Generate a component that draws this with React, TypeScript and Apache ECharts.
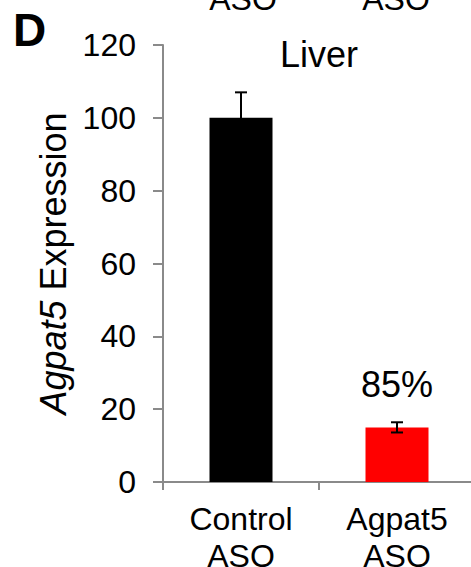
import React, { useEffect, useRef } from "react";
import * as echarts from "echarts";

const categories = ["Control\nASO", "Agpat5\nASO"];
const values = [100, 15];
const errors = [7, 1.4];
const barColors = ["#000000", "#ff0000"];
const barLabels = ["", "85%"];
const yMin = 0;
const yMax = 120;
const yInterval = 20;
const panelLetter = "D";
const tissue = "Liver";
const croppedLabels = ["ASO", "ASO"];

const FONT = "'Liberation Sans', Arial, sans-serif";
const AXIS_GRAY = "#8a8a8a";

export default function App() {
  const ref = useRef<HTMLDivElement>(null);
  useEffect(() => {
    const chart = echarts.init(ref.current!, null, { renderer: "svg" });
    chart.setOption({
      animation: false,
      backgroundColor: "#ffffff",
      grid: {
        left: 163,
        top: 45,
        width: 312,
        height: 437,
        containLabel: false,
        outerBoundsMode: "none",
      },
      xAxis: {
        type: "category",
        data: categories,
        boundaryGap: true,
        axisLine: { show: true, lineStyle: { color: AXIS_GRAY, width: 2 } },
        axisTick: { show: true, length: 8, lineStyle: { color: AXIS_GRAY, width: 2 } },
        axisLabel: {
          margin: 18,
          fontSize: 32,
          lineHeight: 37,
          color: "#000",
          fontFamily: FONT,
          interval: 0,
        },
      },
      yAxis: {
        type: "value",
        min: yMin,
        max: yMax,
        interval: yInterval,
        splitLine: { show: false },
        axisLine: { show: true, lineStyle: { color: AXIS_GRAY, width: 2 } },
        axisTick: { show: true, length: 10, lineStyle: { color: AXIS_GRAY, width: 2 } },
        axisLabel: { margin: 27, fontSize: 32, color: "#000", fontFamily: FONT },
        name: "{i|Agpat5} Expression",
        nameLocation: "middle",
        nameRotate: 90,
        nameGap: 90,
        nameTextStyle: {
          fontSize: 36,
          color: "#000",
          fontFamily: FONT,
          rich: {
            i: { fontSize: 36, fontStyle: "italic", color: "#000", fontFamily: FONT },
          },
        },
      },
      series: [
        {
          type: "bar",
          barWidth: 63,
          data: values.map((v, i) => ({
            value: v,
            itemStyle: { color: barColors[i] },
            label: {
              show: barLabels[i] !== "",
              position: "top",
              distance: 25,
              formatter: barLabels[i],
              fontSize: 36,
              color: "#000",
              fontFamily: FONT,
            },
          })),
        },
        {
          type: "custom",
          z: 10,
          clip: false,
          encode: { x: 0, y: [1, 2] },
          data: values.map((v, i) => [i, v - errors[i], v + errors[i]]),
          renderItem: (params: any, api: any) => {
            const x = api.value(0);
            const lo = api.coord([x, api.value(1)]);
            const hi = api.coord([x, api.value(2)]);
            const hw = 6;
            const style = { stroke: "#000", lineWidth: 2 };
            return {
              type: "group",
              children: [
                { type: "line", shape: { x1: lo[0], y1: lo[1], x2: hi[0], y2: hi[1] }, style },
                { type: "line", shape: { x1: lo[0] - hw, y1: lo[1], x2: lo[0] + hw, y2: lo[1] }, style },
                { type: "line", shape: { x1: hi[0] - hw, y1: hi[1], x2: hi[0] + hw, y2: hi[1] }, style },
              ],
            };
          },
        },
      ],
      graphic: [
        {
          type: "text",
          x: 13,
          y: 30,
          style: {
            text: panelLetter,
            fontSize: 46,
            fontWeight: "bold",
            fontFamily: FONT,
            fill: "#000",
            align: "left",
            verticalAlign: "middle",
          },
        },
        {
          type: "text",
          x: 319,
          y: 54.5,
          style: {
            text: tissue,
            fontSize: 36,
            fontFamily: FONT,
            fill: "#000",
            align: "center",
            verticalAlign: "middle",
          },
        },
        ...croppedLabels.map((t, i) => ({
          type: "text",
          x: [243, 396][i],
          y: -1.5,
          style: {
            text: t,
            fontSize: 32,
            fontFamily: FONT,
            fill: "#000",
            align: "center",
            verticalAlign: "middle",
          },
        })),
      ],
    });
    return () => chart.dispose();
  }, []);
  return (
    <div
      ref={ref}
      style={{ position: "absolute", left: 0, top: 0, width: 471, height: 567 }}
    />
  );
}
